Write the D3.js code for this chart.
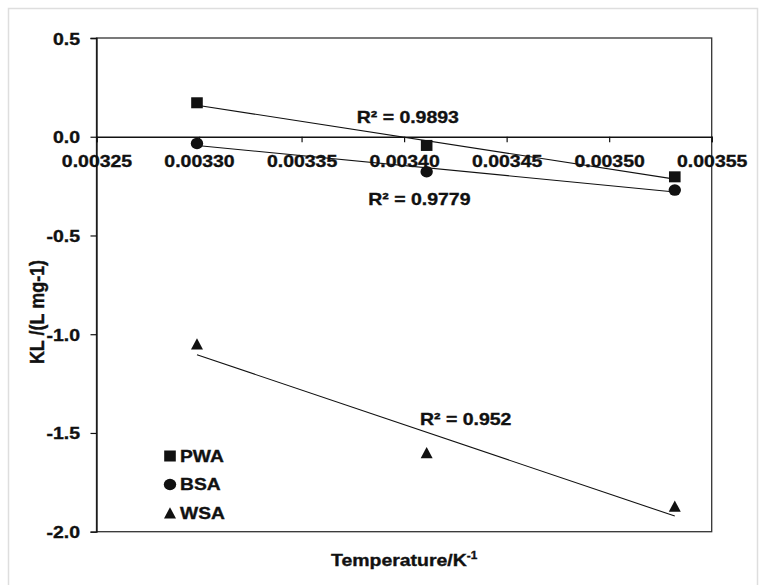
<!DOCTYPE html>
<html>
<head>
<meta charset="utf-8">
<script src="https://cdn.jsdelivr.net/npm/d3@7"></script>
<style>
  body { margin: 0; background: #fff; }
  text { font-family: "Liberation Sans", Arial, sans-serif; font-weight: bold; fill: #111; stroke: #111; stroke-width: 0.35px; }
</style>
</head>
<body>
<div id="chart"></div>
<script>
// values
const tempX = [0.003299, 0.003411, 0.003532];
const pwa = [0.172, -0.044, -0.203];
const bsa = [-0.034, -0.177, -0.270];
const wsa = [-1.050, -1.600, -1.871];
const seriesNames = ['PWA', 'BSA', 'WSA'];
const r2Labels = ['R\u00b2 = 0.9893', 'R\u00b2 = 0.9779', 'R\u00b2 = 0.952'];
const xTicks = [0.00325, 0.00330, 0.00335, 0.00340, 0.00345, 0.00350, 0.00355];
const yTicks = [-2.0, -1.5, -1.0, -0.5, 0.0, 0.5];

const width = 759, height = 585;
const margin = { top: 38, right: 47.3, bottom: 53.3, left: 96.5 };
const SX = 1.18; // the source figure is stretched sideways
const FS = 16.5;

const svg = d3.select('#chart').append('svg')
  .attr('width', width)
  .attr('height', height);

// light outer frame of the figure
svg.append('rect')
  .attr('x', 8.5).attr('y', 8.5)
  .attr('width', 749).attr('height', 620)
  .attr('fill', 'none')
  .attr('stroke', '#dedede')
  .attr('stroke-width', 1.5);

const x = d3.scaleLinear()
  .domain([0.00325, 0.00355])
  .range([margin.left, width - margin.right]);

const y = d3.scaleLinear()
  .domain([-2, 0.5])
  .range([height - margin.bottom, margin.top]);

// plain hyphen for negatives, like the original
const fmt = p => d => d3.format(p)(d).replace('\u2212', '-');

// plot frame
svg.append('rect')
  .attr('x', x(0.00325)).attr('y', y(0.5))
  .attr('width', x(0.00355) - x(0.00325))
  .attr('height', y(-2) - y(0.5))
  .attr('fill', 'none')
  .attr('stroke', '#333')
  .attr('stroke-width', 1.3);

// y axis
const yAxis = svg.append('g')
  .attr('transform', `translate(${x(0.00325)},0)`)
  .call(d3.axisLeft(y).tickValues(yTicks).tickSize(6).tickFormat(fmt('.1f')));
yAxis.attr('font-family', null);
yAxis.select('.domain').attr('stroke', '#111').attr('stroke-width', 1.3);
yAxis.selectAll('.tick line').attr('stroke', '#111').attr('stroke-width', 1.2);
yAxis.selectAll('.tick text')
  .attr('y', 6).attr('dy', null)
  .attr('transform', `scale(${SX},1)`)
  .attr('x', -16.5 / SX)
  .style('font-size', FS + 'px')
  .attr('fill', '#111');

// x axis sits on y = 0
const xAxis = svg.append('g')
  .attr('transform', `translate(0,${y(0)})`)
  .call(d3.axisBottom(x).tickValues(xTicks).tickSize(5.5).tickFormat(fmt('.5f')));
xAxis.attr('font-family', null);
xAxis.select('.domain').attr('stroke', '#111').attr('stroke-width', 1.3);
xAxis.selectAll('.tick line').attr('stroke', '#111').attr('stroke-width', 1.2);
xAxis.selectAll('.tick text')
  .attr('y', 30).attr('dy', null)
  .attr('transform', `scale(${SX},1)`)
  .style('font-size', FS + 'px')
  .attr('fill', '#111');

// linear trend lines
function fit(xs, ys) {
  const mx = d3.mean(xs), my = d3.mean(ys);
  const sxy = d3.sum(xs, (v, i) => (v - mx) * (ys[i] - my));
  const sxx = d3.sum(xs, v => (v - mx) * (v - mx));
  const b = sxy / sxx;
  return v => my + b * (v - mx);
}

const series = [pwa, bsa, wsa];
const line = d3.line().x(d => x(d[0])).y(d => y(d[1]));
series.forEach(vals => {
  const f = fit(tempX, vals);
  const ends = d3.extent(tempX);
  svg.append('path')
    .attr('d', line(ends.map(v => [v, f(v)])))
    .attr('fill', 'none')
    .attr('stroke', '#111')
    .attr('stroke-width', 1.1);
});

// markers
function marker(g, kind, cx, cy) {
  if (kind === 0) {
    g.append('rect')
      .attr('x', cx - 5.8).attr('y', cy - 5.5)
      .attr('width', 11.6).attr('height', 11)
      .attr('fill', '#111');
  } else if (kind === 1) {
    g.append('ellipse')
      .attr('cx', cx).attr('cy', cy)
      .attr('rx', 6.2).attr('ry', 5.8)
      .attr('fill', '#111');
  } else {
    g.append('path')
      .attr('d', `M${cx},${cy - 5.8}L${cx + 6},${cy + 5.5}L${cx - 6},${cy + 5.5}Z`)
      .attr('fill', '#111');
  }
}

const pts = svg.append('g');
series.forEach((vals, k) => {
  vals.forEach((v, i) => marker(pts, k, x(tempX[i]), y(v)));
});

// R² annotations
const r2Pos = [[356.7, 122.5], [368.3, 205], [420, 425]];
r2Labels.forEach((t, i) => {
  svg.append('text')
    .attr('transform', `translate(${r2Pos[i][0]},${r2Pos[i][1]}) scale(${SX},1)`)
    .style('font-size', FS + 'px')
    .text(t);
});

// legend
const legend = svg.append('g');
seriesNames.forEach((name, i) => {
  const ly = 456 + i * 28.5;
  marker(legend, i, 170, ly);
  legend.append('text')
    .attr('transform', `translate(180,${ly + 5.8}) scale(${SX},1)`)
    .style('font-size', '16.3px')
    .text(name);
});

// axis titles
const xt = svg.append('text')
  .attr('text-anchor', 'middle')
  .attr('transform', `translate(${(x(0.00325) + x(0.00355)) / 2},566) scale(${SX},1)`)
  .style('font-size', FS + 'px');
xt.append('tspan').text('Temperature/K');
xt.append('tspan').attr('dy', -7).style('font-size', '10px').text('-1');

svg.append('text')
  .attr('text-anchor', 'middle')
  .attr('transform', `translate(44,312) rotate(-90) scale(1,1.15)`)
  .style('font-size', '18px')
  .text('KL /(L mg-1)');
</script>
</body>
</html>
